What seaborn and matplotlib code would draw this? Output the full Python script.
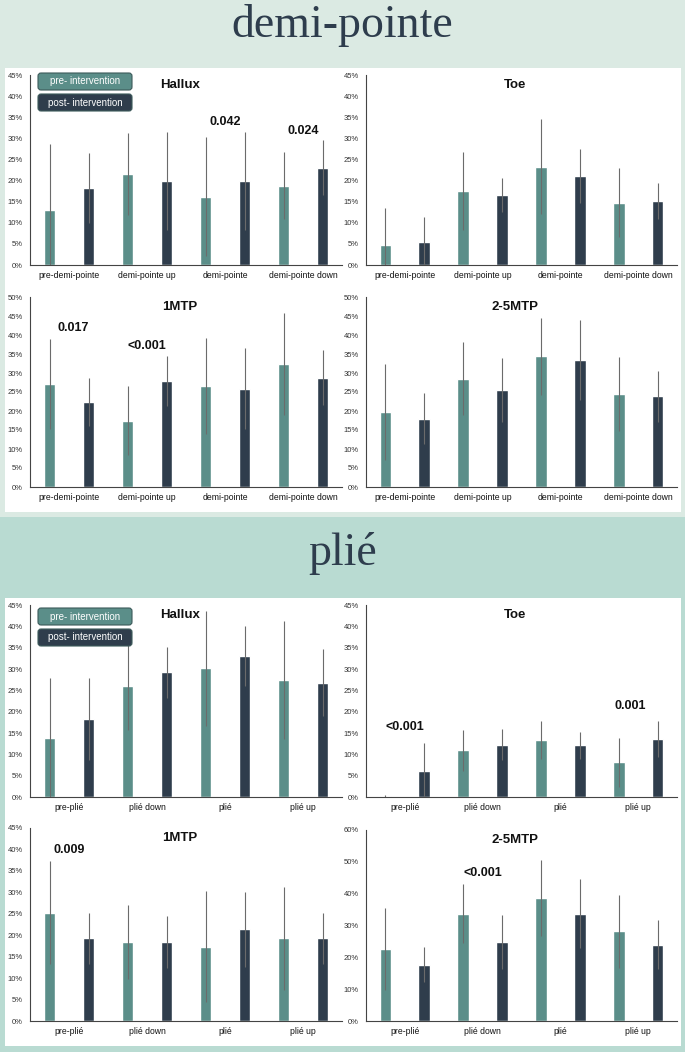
import numpy as np
import pandas as pd
import matplotlib
matplotlib.use('Agg')
import matplotlib.pyplot as plt
import seaborn as sns
from matplotlib.patches import Rectangle, FancyBboxPatch
from matplotlib.transforms import IdentityTransform
from matplotlib.ticker import FuncFormatter

# ---- data (percent of total load) ----
demi_categories = ['pre-demi-pointe', 'demi-pointe up', 'demi-pointe', 'demi-pointe down']
plie_categories = ['pre-plié', 'plié down', 'plié', 'plié up']

demi_hallux_pre = [13.1, 21.5, 16.2, 18.8]
demi_hallux_pre_err = [15.5, 9.7, 14.0, 7.9]
demi_hallux_post = [18.2, 19.9, 19.9, 23.0]
demi_hallux_post_err = [8.3, 11.7, 11.7, 6.5]

demi_toe_pre = [4.7, 17.6, 23.3, 14.8]
demi_toe_pre_err = [8.9, 9.2, 11.2, 8.2]
demi_toe_post = [5.4, 16.5, 21.0, 15.2]
demi_toe_post_err = [6.0, 4.0, 6.4, 4.3]

demi_1mtp_pre = [27.1, 17.4, 26.5, 32.4]
demi_1mtp_pre_err = [11.8, 9.1, 12.6, 13.4]
demi_1mtp_post = [22.4, 28.0, 25.9, 28.8]
demi_1mtp_post_err = [6.3, 6.6, 10.7, 7.2]

demi_25mtp_pre = [19.8, 28.5, 34.4, 24.5]
demi_25mtp_pre_err = [12.7, 9.6, 10.2, 9.8]
demi_25mtp_post = [18.0, 25.6, 33.5, 23.9]
demi_25mtp_post_err = [6.8, 8.4, 10.5, 6.7]

plie_hallux_pre = [13.9, 26.1, 30.2, 27.4]
plie_hallux_pre_err = [13.9, 10.3, 13.5, 13.8]
plie_hallux_post = [18.2, 29.2, 33.0, 26.8]
plie_hallux_post_err = [9.6, 5.9, 7.1, 7.8]

plie_toe_pre = [0.2, 11.0, 13.4, 8.1]
plie_toe_pre_err = [0.2, 4.8, 4.4, 5.8]
plie_toe_post = [6.2, 12.3, 12.1, 13.6]
plie_toe_post_err = [6.5, 3.7, 3.2, 4.2]

plie_1mtp_pre = [25.2, 18.4, 17.3, 19.3]
plie_1mtp_pre_err = [12.0, 8.7, 12.9, 12.0]
plie_1mtp_post = [19.3, 18.4, 21.4, 19.3]
plie_1mtp_post_err = [5.9, 6.0, 8.7, 5.9]

plie_25mtp_pre = [22.5, 33.7, 38.7, 28.2]
plie_25mtp_pre_err = [12.9, 9.3, 12.0, 11.4]
plie_25mtp_post = [17.7, 24.9, 33.7, 24.0]
plie_25mtp_post_err = [5.4, 8.5, 10.9, 7.6]

# p-values: (category index, height in %, label)
demi_hallux_p = [(2, 33.9, '0.042'), (3, 31.7, '0.024')]
demi_1mtp_p = [(0.05, 41.8, '0.017'), (1, 37.2, '<0.001')]
plie_toe_p = [(0, 16.4, '<0.001'), (2.9, 21.3, '0.001')]
plie_1mtp_p = [(0, 39.9, '0.009')]
plie_25mtp_p = [(1, 46.4, '<0.001')]

# ---- style ----
W, H = 685, 1052
PRE_COLOR = '#5b8e89'
POST_COLOR = '#2f3d4c'
TOP_BG = '#dbeae3'
BOTTOM_BG = '#b9dbd2'
TITLE_COLOR = '#2e3d4d'
NARROW = ['Liberation Sans Narrow', 'Liberation Sans', 'DejaVu Sans']

sns.set_style('white')
plt.rcParams['font.family'] = NARROW


def px_rect(x0, y0, x1, y1):
    """Pixel box (top-left origin) -> figure fraction [l, b, w, h]."""
    return [x0 / W, 1 - y1 / H, (x1 - x0) / W, (y1 - y0) / H]


def draw_panel(ax, categories, pre, pre_err, post, post_err, title, ymax, ystep, pvals=()):
    df = pd.DataFrame({
        'position': categories * 2,
        'value': pre + post,
        'phase': ['pre'] * len(pre) + ['post'] * len(post),
    })
    sns.barplot(data=df, x='position', y='value', hue='phase', order=categories,
                hue_order=['pre', 'post'], palette=[PRE_COLOR, POST_COLOR],
                width=1.0, gap=0.7, saturation=1, errorbar=None, legend=False, ax=ax)

    # error bars from the bar geometry (pre/post alternate when sorted by x)
    bars = sorted(ax.patches, key=lambda p: p.get_x())
    errs = [e for pair in zip(pre_err, post_err) for e in pair]
    xs = [p.get_x() + p.get_width() / 2 for p in bars]
    ys = [p.get_height() for p in bars]
    ax.errorbar(xs, ys, yerr=errs, fmt='none', ecolor='#6b6b6b', elinewidth=0.8,
                capsize=0, zorder=3)

    ax.set_xlim(-0.5, len(categories) - 0.5)
    ax.set_ylim(0, ymax)
    ax.set_yticks(np.arange(0, ymax + 0.1, ystep))
    ax.yaxis.set_major_formatter(FuncFormatter(lambda v, _: f'{v:.0f}%'))
    ax.tick_params(axis='y', length=0, pad=5, labelsize=5.5, labelcolor='#333333')

    ax.set_xticks(range(len(categories)))
    ax.set_xticklabels(categories)
    ax.set_xticks(np.arange(-0.5, len(categories), 1), minor=True)
    ax.tick_params(axis='x', which='major', length=0, pad=4, labelsize=6.2,
                   labelcolor='#111111')
    ax.tick_params(axis='x', which='minor', length=16.5, width=0.8, color='#444444',
                   direction='out')

    for s in ['top', 'right']:
        ax.spines[s].set_visible(False)
    for s in ['left', 'bottom']:
        ax.spines[s].set_color('#444444')
        ax.spines[s].set_linewidth(0.8)

    ax.set_xlabel('')
    ax.set_ylabel('')
    ax.set_facecolor('none')

    ax.text(0.48, 0.95, title, transform=ax.transAxes, ha='center', va='center',
            fontsize=9.5, fontweight='bold', color='#111111')
    for xi, yi, label in pvals:
        ax.text(xi, yi, label, ha='center', va='center', fontsize=9,
                fontweight='bold', color='#111111')


def legend_boxes(y_top):
    for i, (label, color) in enumerate([('pre- intervention', PRE_COLOR),
                                        ('post- intervention', POST_COLOR)]):
        y0 = y_top + i * 21
        box = FancyBboxPatch((38, H - y0 - 17), 94, 17,
                             boxstyle='round,pad=0,rounding_size=3',
                             fc=color, ec='#3c5a5a', lw=0.8,
                             transform=IdentityTransform())
        fig.add_artist(box)
        fig.text(85 / W, 1 - (y0 + 8.5) / H, label, ha='center', va='center',
                 fontsize=7, color='white')


fig = plt.figure(figsize=(W / 100, H / 100), dpi=100, facecolor=TOP_BG)

# section backgrounds
fig.add_artist(Rectangle((0, 0), 1, 1 - 517 / H, transform=fig.transFigure,
                         fc=BOTTOM_BG, ec='none', zorder=-3))
for x0, y0, x1, y1 in [(5, 68, 681, 512), (5, 598, 681, 1046)]:
    l, b, w, h = px_rect(x0, y0, x1, y1)
    fig.add_artist(Rectangle((l, b), w, h, transform=fig.transFigure,
                             fc='white', ec='none', zorder=-2))

fig.text(0.5, 1 - 37 / H, 'demi-pointe', ha='center', va='baseline', fontsize=33,
         family=['Liberation Serif', 'DejaVu Serif'], color=TITLE_COLOR)
fig.text(0.5, 1 - 565 / H, 'plié', ha='center', va='baseline', fontsize=33,
         family=['Liberation Serif', 'DejaVu Serif'], color=TITLE_COLOR)

# ---- demi-pointe section ----
ax = fig.add_axes(px_rect(30, 75, 342, 265))
draw_panel(ax, demi_categories, demi_hallux_pre, demi_hallux_pre_err,
           demi_hallux_post, demi_hallux_post_err, 'Hallux', 45, 5, demi_hallux_p)
ax = fig.add_axes(px_rect(366, 75, 677, 265))
draw_panel(ax, demi_categories, demi_toe_pre, demi_toe_pre_err,
           demi_toe_post, demi_toe_post_err, 'Toe', 45, 5)
ax = fig.add_axes(px_rect(30, 297, 342, 487))
draw_panel(ax, demi_categories, demi_1mtp_pre, demi_1mtp_pre_err,
           demi_1mtp_post, demi_1mtp_post_err, '1MTP', 50, 5, demi_1mtp_p)
ax = fig.add_axes(px_rect(366, 297, 677, 487))
draw_panel(ax, demi_categories, demi_25mtp_pre, demi_25mtp_pre_err,
           demi_25mtp_post, demi_25mtp_post_err, '2-5MTP', 50, 5)
legend_boxes(73)

# ---- plié section ----
ax = fig.add_axes(px_rect(30, 605, 342, 797))
draw_panel(ax, plie_categories, plie_hallux_pre, plie_hallux_pre_err,
           plie_hallux_post, plie_hallux_post_err, 'Hallux', 45, 5)
ax = fig.add_axes(px_rect(366, 605, 677, 797))
draw_panel(ax, plie_categories, plie_toe_pre, plie_toe_pre_err,
           plie_toe_post, plie_toe_post_err, 'Toe', 45, 5, plie_toe_p)
ax = fig.add_axes(px_rect(30, 828, 342, 1021))
draw_panel(ax, plie_categories, plie_1mtp_pre, plie_1mtp_pre_err,
           plie_1mtp_post, plie_1mtp_post_err, '1MTP', 45, 5, plie_1mtp_p)
ax = fig.add_axes(px_rect(366, 830, 677, 1021))
draw_panel(ax, plie_categories, plie_25mtp_pre, plie_25mtp_pre_err,
           plie_25mtp_post, plie_25mtp_post_err, '2-5MTP', 60, 10, plie_25mtp_p)
legend_boxes(608)

fig.savefig('out.png', dpi=100, facecolor=fig.get_facecolor())
